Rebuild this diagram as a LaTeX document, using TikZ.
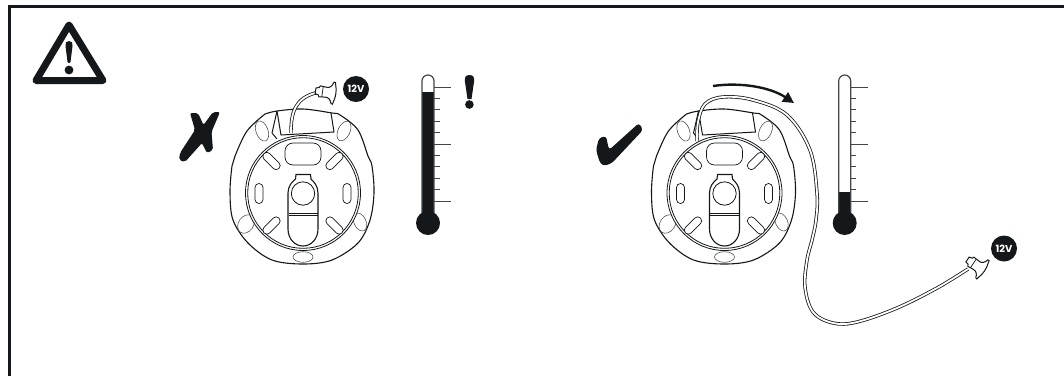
\documentclass[tikz,border=0pt]{standalone}
\usepackage{fontspec}
\setmainfont{Poppins}
\usetikzlibrary{arrows.meta}
\definecolor{ink}{HTML}{14181A}
\tikzset{
 ln/.style={draw=ink,line width=1pt,line join=round},
 hole/.style={draw=ink,line width=0.7pt,fill=white},
 lug/.style={draw=ink!75,line width=0.6pt},
 tick/.style={draw=ink!80,line width=1pt},
 badge/.style={circle,fill=ink,text=white,inner sep=0pt,minimum size=26pt,font=\bfseries\fontsize{10}{10}\selectfont},
}
\newcommand{\slotat}[4]{\draw[hole,rounded corners=3.8pt,rotate around={#4:(#1,#2)}] (#1-#3,#2-4) rectangle (#1+#3,#2+4);}
\newcommand{\devbody}{
 \draw[draw=ink,line width=1.1pt,fill=white] plot[smooth,tension=0.55] coordinates {
  (-38,-79) (-26,-82) (0,-84) (29,-80) (37,-78) (55,-63) (65,-37) (69,-27) (71,0) (67,27) (55,50) (29,67) (0,71) (-31,67) (-55,50) (-70,27) (-73,0) (-71,-27) (-68,-37) (-56,-62) (-38,-79)};
 \draw[lug,rotate around={55:(-57,31)}] (-57,31) ellipse (10pt and 7.5pt);
 \draw[lug,rotate around={-65:(57,29)}] (57,29) ellipse (9.5pt and 6pt);
 \draw[lug] (0,64) ellipse (10pt and 5.3pt);
 \draw[lug,rotate around={-70:(-41,-62)}] (-41,-62) ellipse (10.5pt and 6pt);
 \draw[lug,rotate around={65:(41,-62)}] (41,-62) ellipse (10.5pt and 6pt);
 \draw[ln] (-26,-82) -- (-31,-60) -- (-26,-54);
 \draw[ln] (-26,-82) -- (-22,-58) -- (31,-61) -- (28,-80);
 \draw[draw=ink,line width=0.8pt,fill=white] (0,0) circle (57.5pt);
 \draw[draw=ink,line width=0.8pt] (0,0) circle (55.3pt);
 \draw[hole,rounded corners=8pt] (-18,-50) rectangle (18,-28);
 \draw[hole,rounded corners=3.9pt] (-40,-9.5) rectangle (-48,10.5);
 \draw[hole,rounded corners=3.9pt] (40,-9.5) rectangle (48,10.5);
 \slotat{-31.5}{-32}{10.5}{-45}
 \slotat{31.5}{-32}{10.5}{45}
 \slotat{-31.5}{32.5}{10.5}{45}
 \slotat{31.5}{32.5}{10.5}{-45}
 \draw[draw=ink,line width=1.1pt,fill=white] (-15,0)
  .. controls (-15,-7) and (-11,-11) .. (-7.5,-14)
  -- (-7,-18.5) -- (7.5,-18.5) -- (8,-14)
  .. controls (11,-11) and (15,-7) .. (15,0)
  -- (15,36) .. controls (15,46) and (8,53) .. (0,53)
  .. controls (-8,53) and (-15,46) .. (-15,36) -- cycle;
 \draw[draw=ink,line width=0.8pt] (0,0.5) circle (11.7pt);
 \draw[draw=ink,line width=0.7pt] (-14.5,20.3) -- (14.5,20.3);
 \draw[draw=ink,line width=0.7pt] (-14.5,22) -- (14.5,22);
}
\newcommand{\thermo}[2]{%
 \path[fill=ink] (#1-6,213) -- (#1-6,#2) -- (#1+6,#2) -- (#1+6,213) -- cycle;
 \draw[draw=ink!80,line width=1.2pt] (#1-6,215) -- (#1-6,81) arc[start angle=180,end angle=0,radius=6pt] -- (#1+6,215);
 \fill[ink] (#1,223) circle (12pt);
 \foreach \yy in {87,144,201} \draw[tick] (#1+6,\yy) -- (#1+23,\yy);
 \foreach \yy in {98.4,109.8,121.2,132.6,155.4,166.8,178.2,189.6} \draw[tick] (#1+6,\yy) -- (#1+11.5,\yy);
}
\newcommand{\plugat}[3]{%
 \begin{scope}[shift={(#1,#2)},rotate=#3]
 \draw[ln,fill=white] (-9,-3) -- (-6,-3.5) -- (-5,-5.5) -- (1,-5) .. controls (5,-4.5) and (7,-7) .. (8,-11) .. controls (9,-12) and (10.5,-11) .. (10,-9) .. controls (12,-3) and (12,3) .. (10,9) .. controls (10.5,11) and (9,12) .. (8,10.5) .. controls (7,7) and (5,4.5) .. (1,5) -- (-5,5.5) -- (-6,3.5) -- (-9,3) -- cycle;
 \draw[ln,line width=0.7pt] (-2,-5.2) -- (-2,5.2);
 \end{scope}
}
\begin{document}
\begin{tikzpicture}[x=1pt,y=-1pt]
\useasboundingbox (0,0) rectangle (1064,376);
\fill[white] (0,0) rectangle (1064,376);
\draw[draw=ink,line width=3pt] (9,376) |- (1064,6.8);
\draw[draw=ink,line width=7pt,line join=round,fill=white] (69,25) -- (36,80.5) -- (103,80.5) -- cycle;
\fill[ink] (69,41) .. controls (66,41) and (65,43) .. (65.5,46) -- (67.5,62) .. controls (67.7,63.5) and (70.3,63.5) .. (70.5,62) -- (72.5,46) .. controls (73,43) and (72,41) .. (69,41) -- cycle;
\fill[ink] (69,70) circle (4.4pt);
\fill[ink,rounded corners=2pt] (190,113) -- (198,113) -- (203.5,125) -- (213,112) -- (220,112) -- (211.5,132) -- (213,150) -- (207,153) -- (202,143) -- (185,162) -- (179,160) -- (180,153) -- (195,130) -- cycle;
\begin{scope}[shift={(303,193)}]
\devbody
\end{scope}
\draw[draw=ink,line width=3.4pt] (291,133) .. controls (291,112) and (295,98) .. (317,92.5);
\draw[draw=white,line width=1.8pt] (291,133) .. controls (291,112) and (295,98) .. (317,92.5);
\plugat{324.5}{92}{-8}
\node[badge] (a) at (356,89) {12V};
\thermo{428}{92}
\fill[ink] (469.5,75) .. controls (465,75) and (464.5,78) .. (465,82) -- (467.5,99) -- (471.5,99) -- (474,82) .. controls (474.5,78) and (474,75) .. (469.5,75) -- cycle;
\fill[ink] (469.4,104.5) circle (4.3pt);
\begin{scope}[shift={(724.5,193)}]
\devbody
\end{scope}
\fill[ink,rounded corners=3pt] (596,150) -- (599,138) -- (606,136) -- (609,150) -- (639,123) -- (643,130) -- (612,163) -- (604,166) -- (600,163) -- cycle;
\def\cablepath{plot[smooth,tension=0.6] coordinates {(697,141) (698,122) (705,104) (723,97) (753,100) (787,115) (810,150) (817,193) (816,220) (812,240) (807,260) (805,287) (813,312) (833,323) (857,322) (897,308) (937,288) (968,269)}}
\draw[draw=ink,line width=3.4pt] \cablepath;
\draw[draw=white,line width=1.8pt] \cablepath;
\plugat{975}{264.5}{-34}
\node[badge] (b) at (1004,248.5) {12V};
\draw[draw=ink,line width=2.4pt,-{Triangle[length=11pt,width=11pt]}] (713,86) .. controls (740,82) and (770,87) .. (794,103);
\thermo{844.7}{192.3}
\end{tikzpicture}
\end{document}
